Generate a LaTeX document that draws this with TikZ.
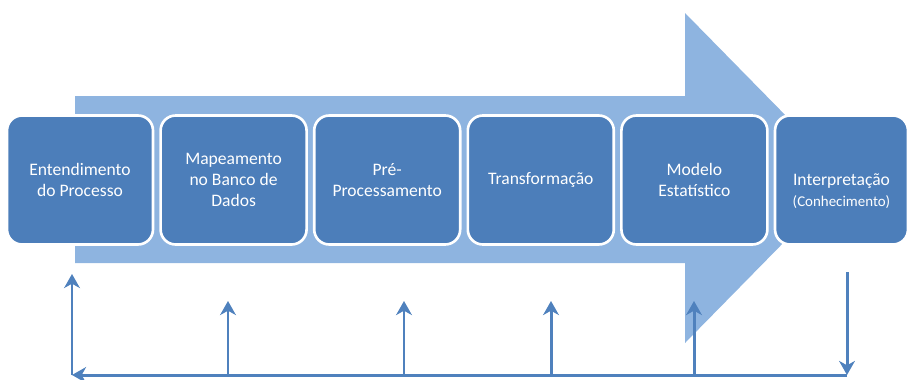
\documentclass[tikz,border=0pt]{standalone}
\usepackage{fontspec}
\setmainfont{Carlito}
\usepackage{tikz}
\usetikzlibrary{arrows.meta, positioning}
\definecolor{flowblue}{RGB}{142, 180, 224}
\definecolor{stageblue}{RGB}{76, 126, 186}
\definecolor{linkblue}{RGB}{79, 129, 189}

\begin{document}
\begin{tikzpicture}[
    x=0.02cm, y=-0.02cm,
    stage/.style={rectangle, rounded corners=0.3cm, draw=white, line width=1.5pt, fill=stageblue, text=white, minimum width=2.92cm, minimum height=2.58cm, align=center, font=\fontsize{10}{11.8}\selectfont},
    feedback/.style={line width=1.7pt, linkblue, -{Stealth[length=8pt, width=9pt, inset=2.5pt]}}
]
\useasboundingbox (0,0) rectangle (909,379);

% Big arrow
\fill[flowblue] (75,96) -- (685,96) -- (685,13) -- (847,178) -- (685,343) -- (685,263) -- (75,263) -- cycle;

% Stages
\node[stage] (proc) at (80,180) {Entendimento\\do Processo};
\node[stage] (mapa) at (233.6,180) {Mapeamento\\no Banco de\\Dados};
\node[stage] (prep) at (387.2,180) {Pré-\\Processamento};
\node[stage] (trans) at (540.8,180) {Transformação};
\node[stage] (model) at (694.4,180) {Modelo\\Estatístico};
\node[stage, minimum width=2.66cm] (interp) at (841.5,180) {};
\node[align=center, text=white, font=\fontsize{10}{11.8}\selectfont] (interplabel) at (841.5,191) {Interpretação\\{\fontsize{8.5}{10}\selectfont(Conhecimento)}};

% Feedback arrows
\coordinate (fbl) at (72,375);
\coordinate (fbr) at (847,375);
\coordinate (fbtop) at (847,272);
\coordinate (tproc) at (72,274);
\coordinate (bmapa) at (228,375);
\coordinate (tmapa) at (228,301);
\coordinate (bprep) at (404,375);
\coordinate (tprep) at (404,301);
\coordinate (btrans) at (551,375);
\coordinate (ttrans) at (551,301);
\coordinate (bmodel) at (694,375);
\coordinate (tmodel) at (694,301);

\draw[feedback] (fbtop) -- (fbr);
\draw[feedback] (fbr) -- (fbl);
\draw[feedback] (fbl) -- (tproc);
\draw[feedback] (bmapa) -- (tmapa);
\draw[feedback] (bprep) -- (tprep);
\draw[feedback] (btrans) -- (ttrans);
\draw[feedback] (bmodel) -- (tmodel);
\end{tikzpicture}
\end{document}
